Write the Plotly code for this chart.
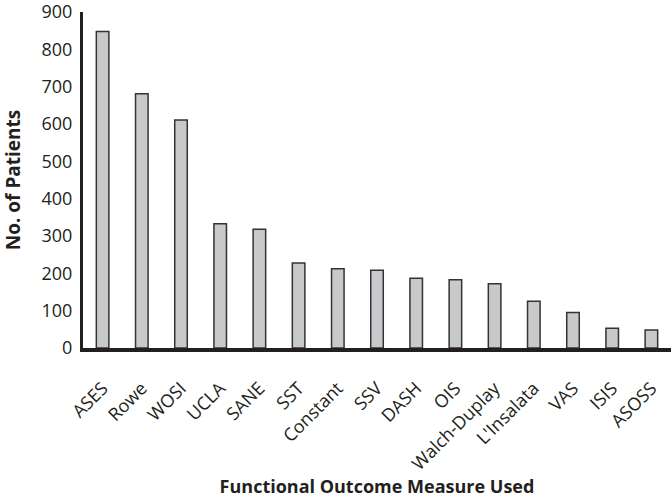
import plotly.graph_objects as go

categories = ["ASES", "Rowe", "WOSI", "UCLA", "SANE", "SST", "Constant", "SSV", "DASH",
              "OIS", "Walch-Duplay", "L'Insalata", "VAS", "ISIS", "ASOSS"]
patients = [848, 681, 611, 333, 318, 228, 212, 208, 187, 183, 172, 125, 95, 53, 48]
y_ticks = [0, 100, 200, 300, 400, 500, 600, 700, 800, 900]

fig = go.Figure(go.Bar(
    x=categories, y=patients, width=0.32,
    marker=dict(color="#c8c9cb", line=dict(color="#333333", width=1.5)),
))

font_family = "Open Sans"
fig.update_layout(
    width=671, height=498,
    margin=dict(l=83, r=0, t=12, b=150),
    plot_bgcolor="white", paper_bgcolor="white",
    showlegend=False,
    font=dict(family=font_family, color="#231f20", size=18),
)
fig.update_xaxes(
    range=[-0.5, 14.5], showline=True, linecolor="#231f20", linewidth=3.5,
    tickangle=-45, ticks="", showgrid=False, tickfont=dict(size=18),
    ticklabelstandoff=19, automargin=False,
    title=dict(text="<b>Functional Outcome Measure Used</b>", font=dict(size=18), standoff=18),
)
fig.update_yaxes(
    range=[0, 900], tickvals=y_ticks, showline=True, linecolor="#231f20", linewidth=3,
    ticks="", showgrid=False, zeroline=False, ticklabelstandoff=4, tickfont=dict(size=18),
    automargin=False, ticklabeloverflow="allow",
    title=dict(text="<b>No. of Patients</b>", font=dict(size=19), standoff=28),
)
fig.write_html("out.html", config={"displayModeBar": False},
               post_script="document.body.style.margin='0';")
